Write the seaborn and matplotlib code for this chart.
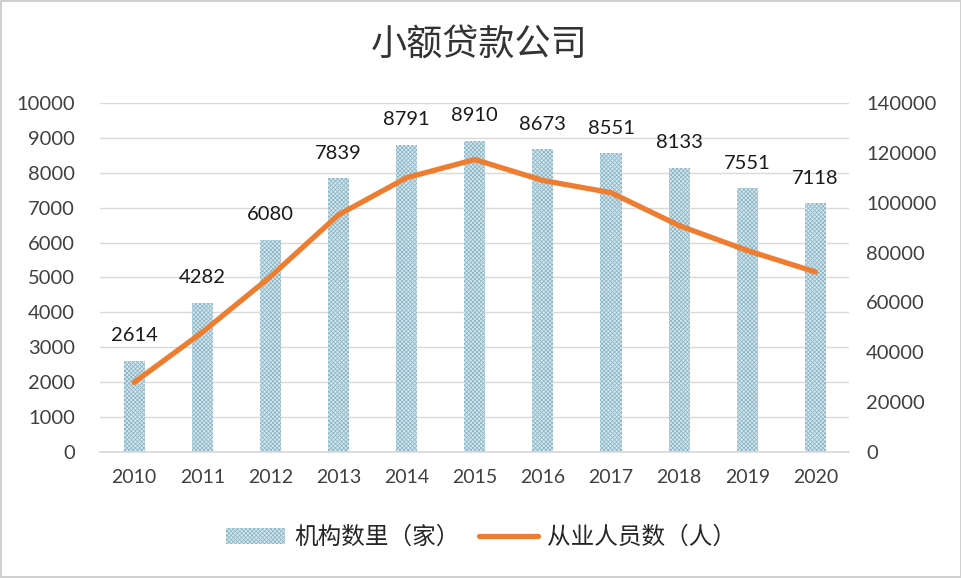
import pandas as pd
import seaborn as sns
import matplotlib.pyplot as plt
from matplotlib.patches import Patch
from matplotlib.lines import Line2D

# 数据
years = ['2010', '2011', '2012', '2013', '2014', '2015', '2016', '2017', '2018', '2019', '2020']
institutions = [2614, 4282, 6080, 7839, 8791, 8910, 8673, 8551, 8133, 7551, 7118]
employees = [27900, 48000, 70300, 95100, 110000, 117300, 108900, 104000, 90800, 80800, 72200]

df = pd.DataFrame({'year': years, 'inst': institutions, 'emp': employees})

sns.set_theme(style='white')
plt.rcParams['font.family'] = ['Noto Sans CJK SC', 'DejaVu Sans']
plt.rcParams['hatch.linewidth'] = 0.55

fig = plt.figure(figsize=(9.62, 5.78), dpi=100)
fig.patch.set_edgecolor('#d0d0d0')
fig.patch.set_linewidth(1.5)
ax = fig.add_axes([0.104, 0.218, 0.779, 0.604])

bar_color = '#cdeaf5'
hatch_color = '#93b1be'
sns.barplot(data=df, x='year', y='inst', ax=ax, color=bar_color, width=0.31,
            edgecolor=hatch_color, linewidth=0, zorder=2)
for p in ax.patches:
    p.set_hatch('xxxxxxxx')
    p.set_facecolor(bar_color)
    p.set_edgecolor(hatch_color)
    p.set_linewidth(0)

num_font = ['Lato', 'DejaVu Sans']
for i, v in enumerate(institutions):
    ax.annotate(str(v), (i, v), xytext=(0, 12), textcoords='offset points',
                ha='center', va='bottom', fontsize=14.5, color='#1a1a1a', family=num_font)

ax.set_ylim(0, 10000)
ax.set_yticks(range(0, 10001, 1000))
ax.set_xlim(-0.5, 10.5)
ax.yaxis.grid(True, color='#d9d9d9', linewidth=1, zorder=0)
ax.set_axisbelow(True)
ax.set_xlabel('')
ax.set_ylabel('')
ax.tick_params(axis='y', length=0, pad=18, labelsize=14.5, labelcolor='#404040')
ax.tick_params(axis='x', length=0, pad=12, labelsize=14, labelcolor='#404040')
for lab in ax.get_xticklabels() + ax.get_yticklabels():
    lab.set_family(num_font)
for s in ax.spines.values():
    s.set_visible(False)
ax.spines['bottom'].set_visible(True)
ax.spines['bottom'].set_color('#d9d9d9')

ax2 = ax.twinx()
sns.lineplot(data=df, x='year', y='emp', ax=ax2, color='#ed7d31', linewidth=3.8,
             sort=False, zorder=3)
ax2.set_ylim(0, 140000)
ax2.set_yticks(range(0, 140001, 20000))
ax2.set_ylabel('')
ax2.tick_params(axis='y', length=0, pad=12, labelsize=14.5, labelcolor='#404040')
for lab in ax2.get_yticklabels():
    lab.set_family(num_font)
for s in ax2.spines.values():
    s.set_visible(False)

fig.suptitle('小额贷款公司', x=0.498, y=0.952, fontsize=26, color='#333333')

handles = [Patch(facecolor=bar_color, edgecolor=hatch_color, linewidth=0, hatch='xxxxxxxx'),
           Line2D([0], [0], color='#ed7d31', linewidth=3.8)]
fig.legend(handles, ['机构数里（家）', '从业人员数（人）'], loc='center',
           bbox_to_anchor=(0.5, 0.07), ncol=2, frameon=False, fontsize=17,
           handlelength=2.5, columnspacing=0.8, handletextpad=0.4,
           labelcolor='#262626')

plt.savefig('out.png', dpi=100)
